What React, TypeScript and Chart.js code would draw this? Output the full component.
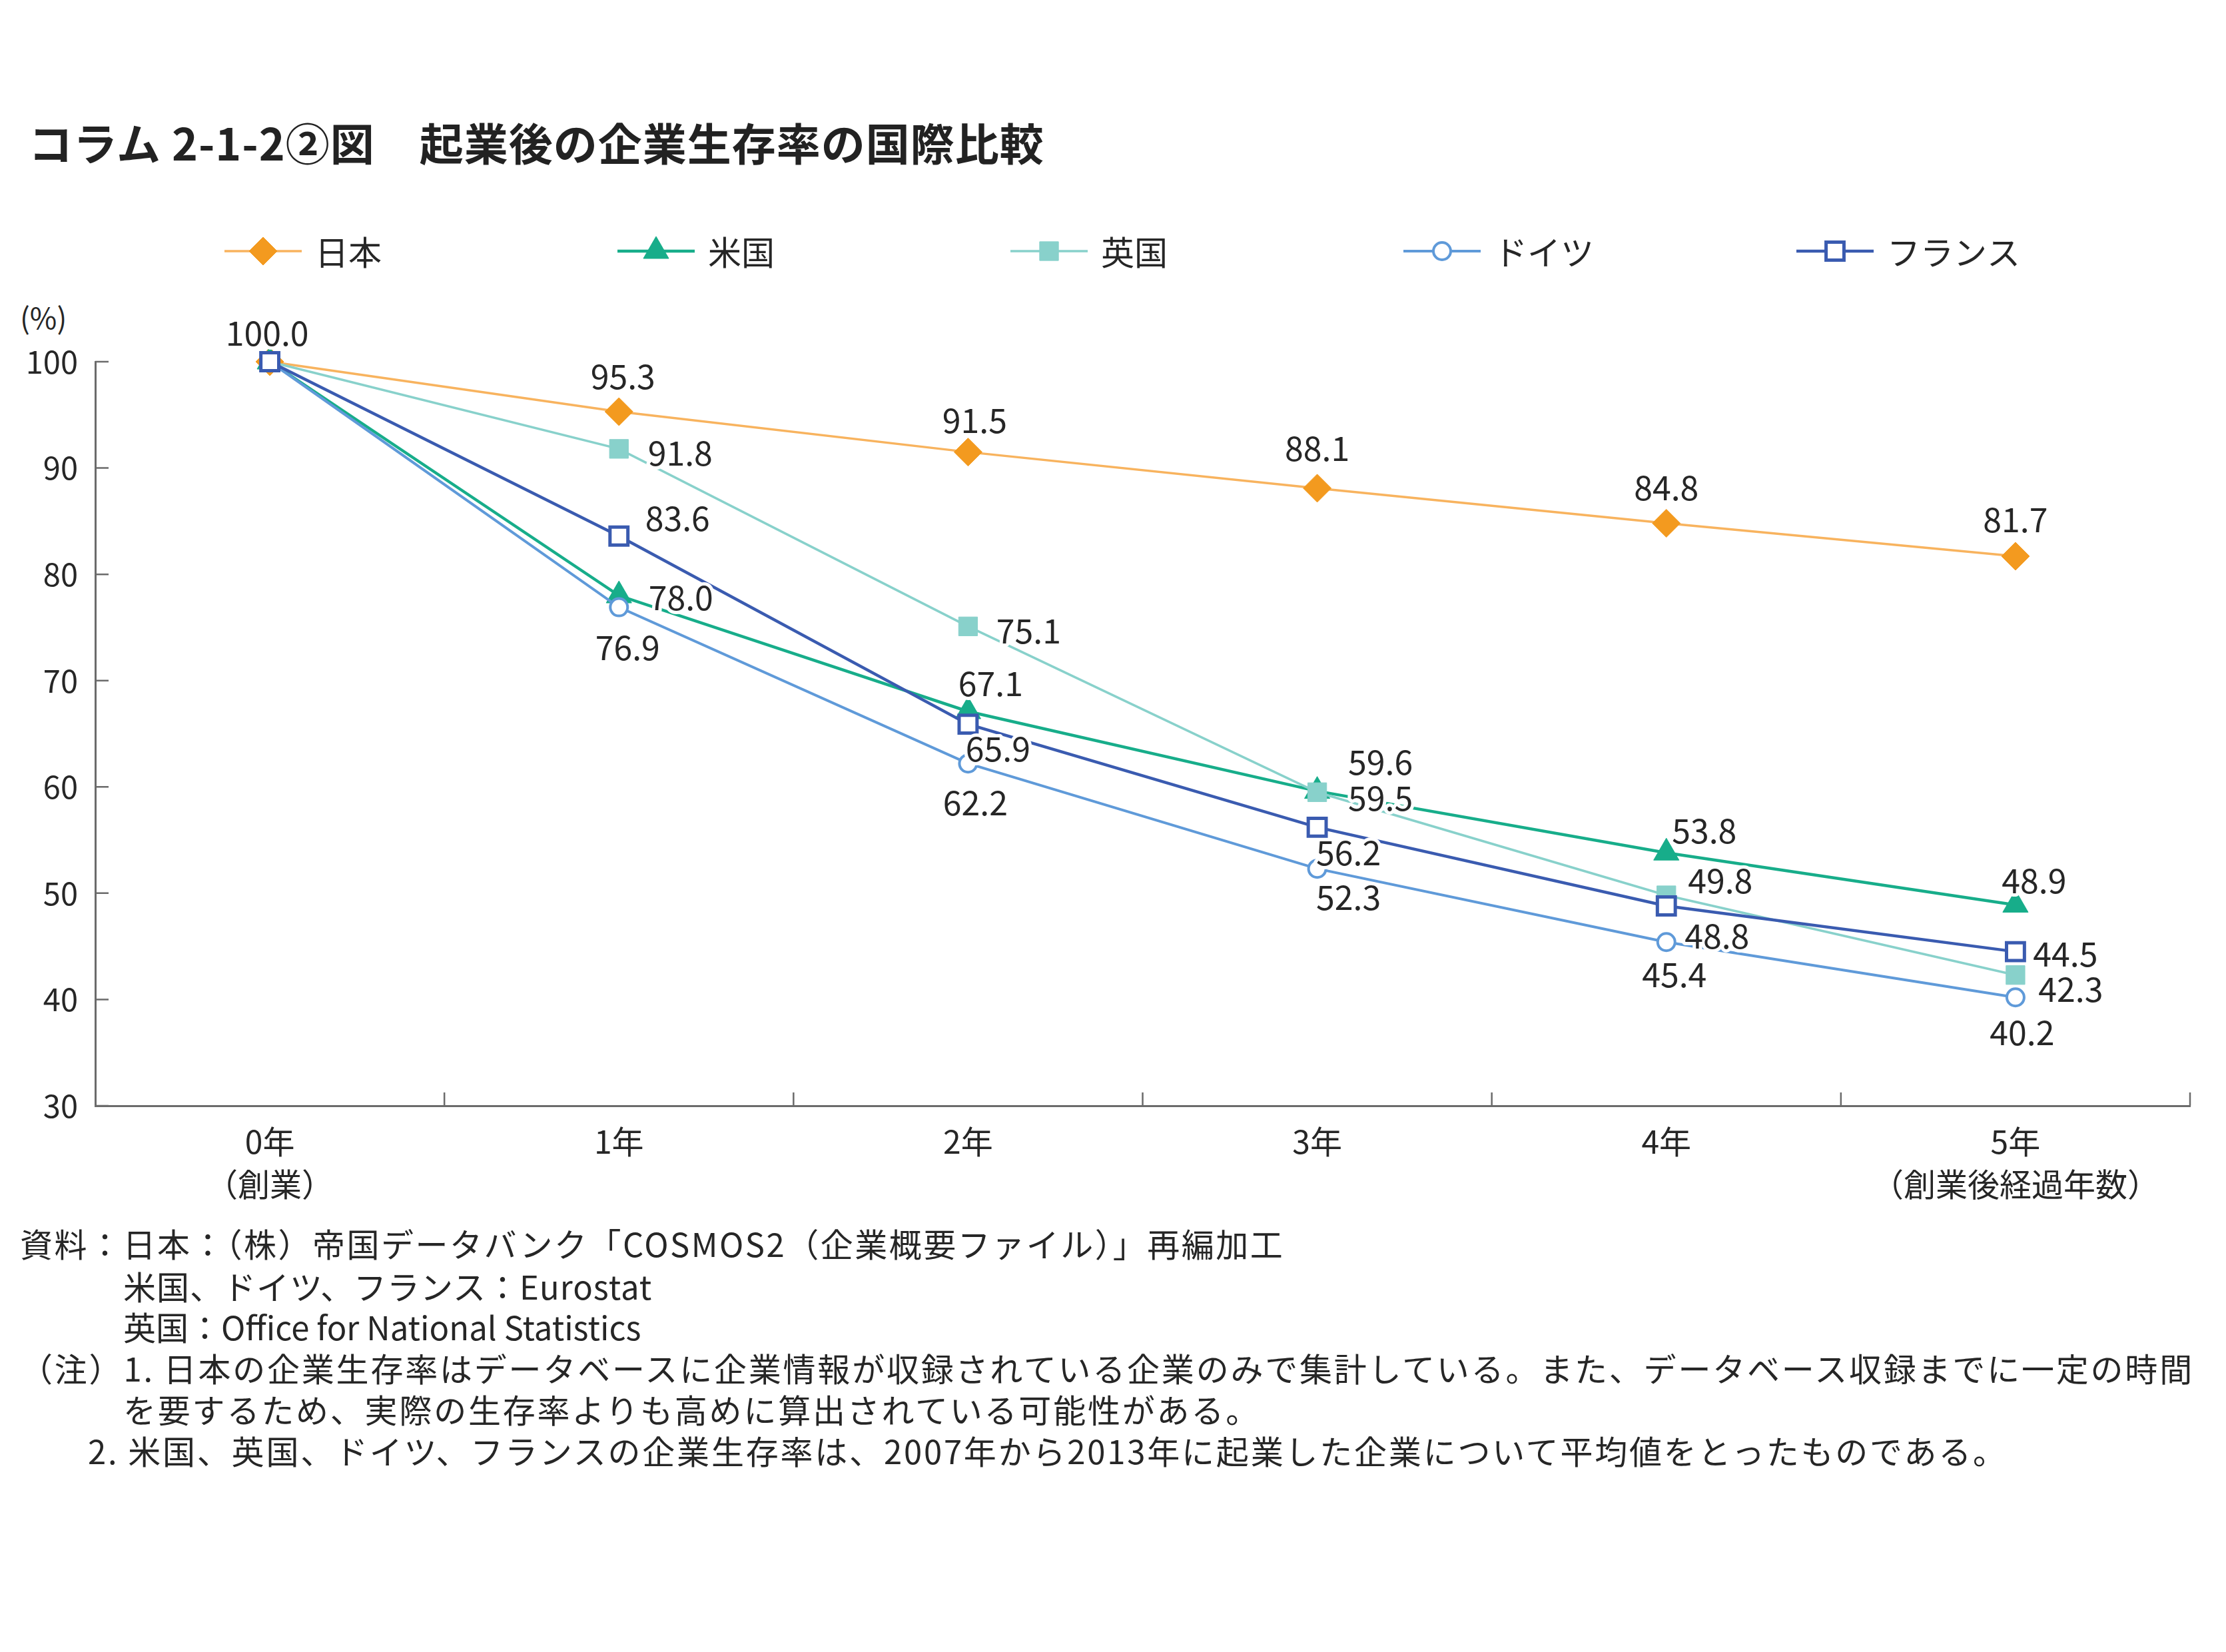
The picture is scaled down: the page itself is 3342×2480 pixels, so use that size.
import React, { useEffect, useRef } from "react";
import { Chart, registerables } from "chart.js";
import { drawPoint } from "chart.js/helpers";

Chart.register(...registerables);

// ---------- data ----------
const categories: (string | string[])[] = [
  ["0年", "（創業）"],
  "1年",
  "2年",
  "3年",
  "4年",
  ["5年", "（創業後経過年数）"],
];
const seriesNames = ["日本", "米国", "英国", "ドイツ", "フランス"];
const japan = [100.0, 95.3, 91.5, 88.1, 84.8, 81.7];
const usa = [100.0, 78.0, 67.1, 59.6, 53.8, 48.9];
const uk = [100.0, 91.8, 75.1, 59.5, 49.8, 42.3];
const germany = [100.0, 76.9, 62.2, 52.3, 45.4, 40.2];
const france = [100.0, 83.6, 65.9, 56.2, 48.8, 44.5];
const yTicks = [30, 40, 50, 60, 70, 80, 90, 100];

const title = "コラム 2-1-2②図　起業後の企業生存率の国際比較";
const unitLabel = "(%)";
const notes = [
  "資料：日本：（株）帝国データバンク「COSMOS2（企業概要ファイル）」再編加工",
  "米国、ドイツ、フランス：Eurostat",
  "英国：Office for National Statistics",
  "（注）1. 日本の企業生存率はデータベースに企業情報が収録されている企業のみで集計している。また、データベース収録までに一定の時間",
  "を要するため、実際の生存率よりも高めに算出されている可能性がある。",
  "2. 米国、英国、ドイツ、フランスの企業生存率は、2007年から2013年に起業した企業について平均値をとったものである。",
];

// ---------- styles ----------
const FONT = "'Noto Sans CJK JP', 'Noto Sans', sans-serif";
const TEXT = "#262626";
const AXIS = "#6b6b6b";

const lineColors = ["#F8B35E", "#17AD8A", "#88D1CB", "#5F9AD9", "#3A5BB0"];
const markerFill = ["#F39A1F", "#17AD8A", "#88D1CB", "#ffffff", "#ffffff"];
const markerBorder = ["#F39A1F", "#17AD8A", "#88D1CB", "#5F9AD9", "#3A5BB0"];
const markerStyles = ["rectRot", "triangle", "rect", "circle", "rect"];
const markerRadius = [21, 22, 20, 13, 19];
const markerBorderWidth = [1, 1, 1, 4, 5];
const lineWidths = [3.5, 4.5, 3.5, 4, 4.5];
const drawOrder = [5, 4, 3, 2, 1];

// label offsets (dx, dy) relative to each point, null = no label
type Off = [number, number] | null;
const labelOffsets: Off[][] = [
  [[-4, -43], [6, -53], [10, -48], [0, -60], [0, -54], [0, -55]],
  [null, [93, 3], [34, -42], [95, -44], [57, -33], [28, -36]],
  [null, [92, 6], [91, 7], [95, 9], [81, -22], [83, 21]],
  [null, [13, 60], [11, 59], [47, 43], [12, 49], [10, 53]],
  [null, [88, -27], [45, 37], [47, 38], [76, 45], [75, 3]],
];

const CANVAS_TOP = 300;
const CANVAS_W = 3342;
const CANVAS_H = 1520;

const legendPlugin = {
  id: "customLegend",
  afterDraw(chart: any) {
    const ctx = chart.ctx;
    const y = 377 - CANVAS_TOP;
    chart.data.datasets.forEach((ds: any, i: number) => {
      const x0 = 337 + i * 590;
      ctx.save();
      ctx.strokeStyle = ds.borderColor;
      ctx.lineWidth = ds.borderWidth;
      ctx.beginPath();
      ctx.moveTo(x0, y);
      ctx.lineTo(x0 + 116, y);
      ctx.stroke();
      ctx.fillStyle = ds.pointBackgroundColor;
      ctx.strokeStyle = ds.pointBorderColor;
      ctx.lineWidth = ds.pointBorderWidth;
      drawPoint(
        ctx,
        { pointStyle: ds.pointStyle, radius: ds.pointRadius, rotation: 0, borderWidth: ds.pointBorderWidth },
        x0 + 58,
        y
      );
      ctx.fillStyle = TEXT;
      ctx.font = `50px ${FONT}`;
      ctx.textBaseline = "middle";
      ctx.textAlign = "left";
      ctx.fillText(ds.label, x0 + 136, y + 2);
      ctx.restore();
    });
  },
};

const axisTickPlugin = {
  id: "inwardTicks",
  afterDraw(chart: any) {
    const { ctx, chartArea } = chart;
    const xs = chart.scales.x;
    const ys = chart.scales.y;
    ctx.save();
    ctx.strokeStyle = AXIS;
    ctx.lineWidth = 2.5;
    ctx.beginPath();
    ys.ticks.forEach((_t: any, i: number) => {
      const py = ys.getPixelForTick(i);
      ctx.moveTo(chartArea.left, py);
      ctx.lineTo(chartArea.left + 20, py);
    });
    const n = chart.data.labels.length;
    for (let i = 1; i <= n; i++) {
      const px = i < n ? (xs.getPixelForValue(i - 1) + xs.getPixelForValue(i)) / 2 : chartArea.right;
      ctx.moveTo(px, chartArea.bottom);
      ctx.lineTo(px, chartArea.bottom - 20);
    }
    ctx.stroke();
    ctx.restore();
  },
};

const valueLabelPlugin = {
  id: "valueLabels",
  afterDatasetsDraw(chart: any) {
    const ctx = chart.ctx;
    ctx.save();
    ctx.font = `50px ${FONT}`;
    ctx.textAlign = "center";
    ctx.textBaseline = "middle";
    ctx.lineJoin = "round";
    chart.data.datasets.forEach((ds: any, i: number) => {
      const meta = chart.getDatasetMeta(i);
      meta.data.forEach((pt: any, j: number) => {
        const off = labelOffsets[i][j];
        if (!off) return;
        const text = Number(ds.data[j]).toFixed(1);
        const x = pt.x + off[0];
        const y = pt.y + off[1];
        ctx.strokeStyle = "#ffffff";
        ctx.lineWidth = 10;
        ctx.strokeText(text, x, y);
        ctx.fillStyle = TEXT;
        ctx.fillText(text, x, y);
      });
    });
    ctx.restore();
  },
};

export default function App() {
  const ref = useRef<HTMLCanvasElement | null>(null);

  useEffect(() => {
    if (!ref.current) return;
    const series = [japan, usa, uk, germany, france];
    const chart = new Chart(ref.current, {
      type: "line",
      data: {
        labels: categories,
        datasets: series.map((d, i) => ({
          label: seriesNames[i],
          data: d,
          borderColor: lineColors[i],
          borderWidth: lineWidths[i],
          backgroundColor: markerFill[i],
          pointBackgroundColor: markerFill[i],
          pointBorderColor: markerBorder[i],
          pointBorderWidth: markerBorderWidth[i],
          pointStyle: markerStyles[i],
          pointRadius: markerRadius[i],
          pointHoverRadius: markerRadius[i],
          tension: 0,
          fill: false,
          clip: false as any,
          order: drawOrder[i],
        })),
      },
      options: {
        animation: false,
        responsive: false,
        maintainAspectRatio: false,
        events: [],
        layout: { padding: { top: 243, right: 54, left: 0, bottom: 0 } },
        plugins: {
          legend: { display: false },
          tooltip: { enabled: false },
          title: { display: false },
        },
        scales: {
          x: {
            type: "category",
            offset: true,
            grid: { display: true, drawOnChartArea: false, drawTicks: false },
            border: { display: true, color: AXIS, width: 3 },
            ticks: {
              color: TEXT,
              font: { family: FONT, size: 48, lineHeight: 1.33 },
              padding: 22,
              maxRotation: 0,
              autoSkip: false,
            },
            afterFit: (s: any) => {
              s.height = 160;
            },
          },
          y: {
            min: yTicks[0],
            max: yTicks[yTicks.length - 1],
            afterBuildTicks: (s: any) => {
              s.ticks = yTicks.map((v) => ({ value: v }));
            },
            grid: { display: true, drawOnChartArea: false, drawTicks: false },
            border: { display: true, color: AXIS, width: 3 },
            ticks: {
              color: TEXT,
              font: { family: FONT, size: 47 },
              padding: 26,
            },
            afterFit: (s: any) => {
              s.width = 143;
            },
          },
        },
      } as any,
      plugins: [axisTickPlugin, valueLabelPlugin, legendPlugin],
    });
    return () => chart.destroy();
  }, []);

  const noteLines: { x: number; y: number; text: string; ls: number }[] = [
    { x: 30, y: 1865, text: notes[0], ls: 2.5 },
    { x: 185, y: 1929, text: notes[1], ls: 1 },
    { x: 185, y: 1990, text: notes[2], ls: 0 },
    { x: 30, y: 2052, text: notes[3], ls: 2.8 },
    { x: 185, y: 2114, text: notes[4], ls: 2.8 },
    { x: 132, y: 2176, text: notes[5], ls: 2.8 },
  ];
  const NOTE_FS = 49;

  return (
    <div
      style={{
        position: "absolute",
        left: 0,
        top: 0,
        width: 3342,
        height: 2480,
        background: "#ffffff",
        fontFamily: FONT,
        color: TEXT,
        overflow: "hidden",
      }}
    >
      <div
        style={{
          position: "absolute",
          left: 43,
          top: 213 - 36,
          fontSize: 66,
          lineHeight: "70px",
          fontWeight: 700,
          letterSpacing: "1px",
          whiteSpace: "nowrap",
          color: "#222",
        }}
      >
        {title}
      </div>
      <div
        style={{
          position: "absolute",
          left: 30,
          top: 475 - 24,
          fontSize: 44,
          lineHeight: "48px",
          whiteSpace: "nowrap",
        }}
      >
        {unitLabel}
      </div>
      <canvas
        ref={ref}
        width={CANVAS_W}
        height={CANVAS_H}
        style={{ position: "absolute", left: 0, top: CANVAS_TOP, width: CANVAS_W, height: CANVAS_H }}
      />
      {noteLines.map((n, i) => (
        <div
          key={i}
          style={{
            position: "absolute",
            left: n.x,
            top: n.y - NOTE_FS / 2 - 2,
            fontSize: NOTE_FS,
            lineHeight: `${NOTE_FS + 4}px`,
            letterSpacing: `${n.ls}px`,
            whiteSpace: "nowrap",
          }}
        >
          {n.text}
        </div>
      ))}
    </div>
  );
}
